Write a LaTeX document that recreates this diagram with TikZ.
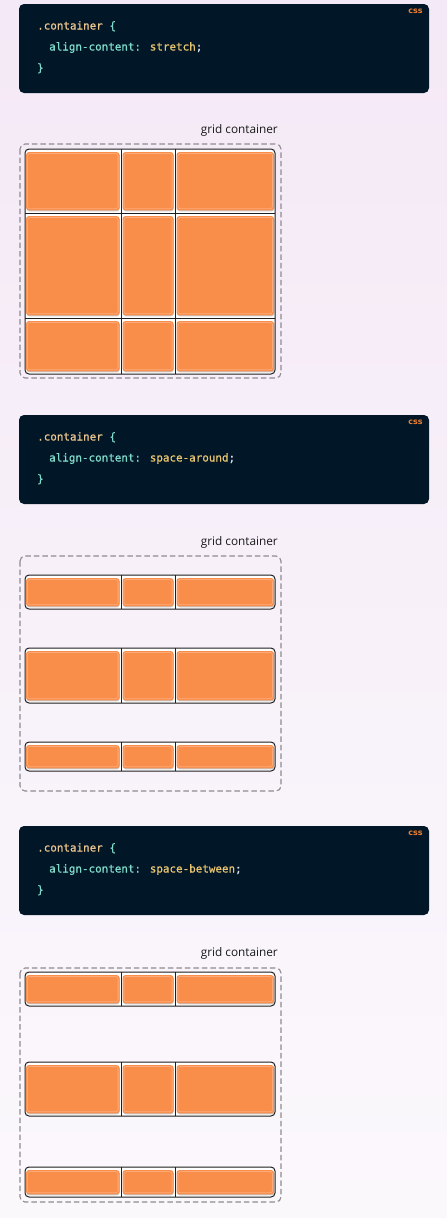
\documentclass[tikz,border=0pt]{standalone}
\usepackage{fontspec}
\newfontfamily\codefont[FakeBold=0.8]{DejaVu Sans Mono}
\newfontfamily\labelfont{Open Sans}
\newfontfamily\tagfont{DejaVu Sans}
\definecolor{bgtop}{HTML}{F4E9F6}
\definecolor{bgbot}{HTML}{FBF8FC}
\definecolor{codebg}{HTML}{011627}
\definecolor{selcol}{HTML}{ECC48D}
\definecolor{propcol}{HTML}{7FDBCA}
\definecolor{valcol}{HTML}{E8C46E}
\definecolor{punctcol}{HTML}{D6DEEB}
\definecolor{tagcol}{HTML}{F0802F}
\definecolor{cellcol}{HTML}{F98D4A}
\definecolor{cellhi}{HTML}{FDB286}
\definecolor{dashcol}{HTML}{8E8C90}
\definecolor{gridcol}{HTML}{1E1E1E}
\tikzset{
  codebox/.style={fill=codebg, rounded corners=5pt},
  codetext/.style={anchor=base west, inner sep=0pt, font=\codefont\fontsize{10.9}{12}\selectfont},
  tagtext/.style={inner sep=0pt, font=\tagfont\bfseries\fontsize{8}{9}\selectfont, text=tagcol},
  gclabel/.style={anchor=east, inner sep=0pt, font=\labelfont\fontsize{11.8}{14}\selectfont, text=black!90},
  dashbox/.style={draw=dashcol, line width=1.1pt, dash pattern=on 5.5pt off 3pt, rounded corners=5pt},
  gridbg/.style={fill=white, rounded corners=4pt},
  gridline/.style={draw=gridcol, line width=1pt},
  cellfill/.style={fill=cellcol, rounded corners=3pt},
  cellshade/.style={fill=black!22, rounded corners=3pt},
  cellglow/.style={draw=cellhi, line width=0.8pt, rounded corners=2.5pt, opacity=0.8},
}
% one row of three cells: #1 top, #2 bottom
\newcommand\cellrow[2]{%
  \foreach \xl/\xr in {26/119.5, 122.5/173.5, 176.5/274}{%
    \fill[cellshade] (\xl+0.6,#1+3.6) rectangle (\xr+0.3,#2-1.6);
    \fill[cellfill] (\xl,#1+3) rectangle (\xr,#2-2.6);
    \draw[cellglow] (\xl+1.4,#1+4.4) rectangle (\xr-1.4,#2-4.2);
  }%
}
% a separate grid track: #1 top, #2 bottom
\newcommand\trackrow[2]{%
  \fill[gridbg] (25,#1) rectangle (275,#2);
  \cellrow{#1}{#2}
  \draw[gridline, rounded corners=4pt] (25,#1) rectangle (275,#2);
  \draw[gridline] (121,#1) -- (121,#2);
  \draw[gridline] (175,#1) -- (175,#2);
}
% code block: #1 name, #2 top, #3 value
\newcommand\codeblock[3]{%
  \fill[codebox] (19,#2) rectangle (429,#2+89);
  \node[tagtext] (#1tag) at (415.5,#2+7.5) {css};
  \node[codetext] (#1a) at (37,#2+25.5) {\textcolor{selcol}{.container} \textcolor{propcol}{\{}};
  \node[codetext] (#1b) at (49,#2+46.5) {\textcolor{propcol}{align-content:} \textcolor{valcol}{#3}\textcolor{punctcol}{;}};
  \node[codetext] (#1c) at (37,#2+67.5) {\textcolor{propcol}{\}}};
}
\begin{document}
\begin{tikzpicture}[x=1pt,y=-1pt]
\useasboundingbox (0,0) rectangle (447,1218);
\shade[top color=bgtop, bottom color=bgbot] (0,0) rectangle (447,1218);

% ---------- stretch ----------
\codeblock{cA}{4}{stretch}
\node[gclabel] (labA) at (278,130) {grid container};
\draw[dashbox] (20,144) rectangle (281,378);
\fill[gridbg] (25,149) rectangle (275,374);
\cellrow{149}{213}
\cellrow{213}{318}
\cellrow{318}{374}
\draw[gridline, rounded corners=4pt] (25,149) rectangle (275,374);
\draw[gridline] (121,149) -- (121,374);
\draw[gridline] (175,149) -- (175,374);
\draw[gridline] (25,213) -- (275,213);
\draw[gridline] (25,318) -- (275,318);

% ---------- space-around ----------
\codeblock{cB}{415}{space-around}
\node[gclabel] (labB) at (278,542) {grid container};
\draw[dashbox] (20,556) rectangle (281,791);
\trackrow{575}{609}
\trackrow{648}{703}
\trackrow{742}{771}

% ---------- space-between ----------
\codeblock{cC}{826}{space-between}
\node[gclabel] (labC) at (278,953) {grid container};
\draw[dashbox] (20,968) rectangle (281,1202);
\trackrow{972}{1006}
\trackrow{1062}{1116}
\trackrow{1167}{1197}
\end{tikzpicture}
\end{document}
